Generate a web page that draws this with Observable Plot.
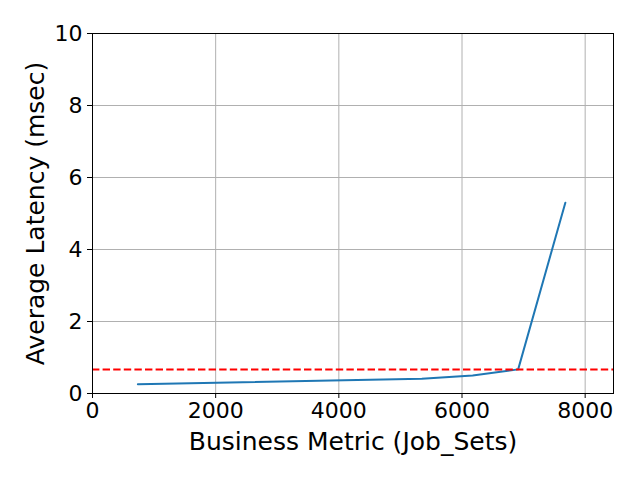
<!DOCTYPE html>
<html>
<head>
<meta charset="utf-8">
<script src="https://cdn.jsdelivr.net/npm/d3@7"></script>
<script src="https://cdn.jsdelivr.net/npm/@observablehq/plot@0.6"></script>
<style>
body { margin: 0; background: white; }
</style>
</head>
<body>
<div id="chart"></div>
<script>
const jobSets = [737, 5348, 6173, 6912, 7678];
const latency = [0.26, 0.41, 0.50, 0.67, 5.30];
const threshold = [0.67];
const xTicks = [0, 2000, 4000, 6000, 8000];
const yTicks = [0, 2, 4, 6, 8, 10];
const xLabel = "Business Metric (Job_Sets)";
const yLabel = "Average Latency (msec)";

const data = jobSets.map((x, i) => ({x, y: latency[i]}));

const chart = Plot.plot({
  width: 640,
  height: 480,
  marginLeft: 92,
  marginRight: 27,
  marginTop: 33,
  marginBottom: 87,
  style: {fontFamily: "DejaVu Sans", fontSize: "22px", color: "black", background: "white"},
  x: {domain: [0, 8460]},
  y: {domain: [0, 10]},
  marks: [
    Plot.gridX(xTicks, {stroke: "#b0b0b0", strokeOpacity: 1, strokeWidth: 1}),
    Plot.gridY(yTicks, {stroke: "#b0b0b0", strokeOpacity: 1, strokeWidth: 1}),
    Plot.axisX(xTicks, {tickSize: 5, tickPadding: 4, fontSize: 22, label: null, tickFormat: d => String(d)}),
    Plot.axisY(yTicks, {tickSize: 5, tickPadding: 5, fontSize: 22, label: null, tickFormat: d => String(d)}),
    Plot.line(data, {x: "x", y: "y", stroke: "#1f77b4", strokeWidth: 2}),
    Plot.ruleY(threshold, {stroke: "red", strokeWidth: 2, strokeDasharray: "7.4,3.2"}),
    Plot.frame({stroke: "black", strokeWidth: 1}),
    Plot.text([xLabel], {frameAnchor: "bottom", lineAnchor: "middle", dy: 48, fontSize: 25, text: d => d, fill: "black"}),
    Plot.text([yLabel], {frameAnchor: "left", textAnchor: "middle", lineAnchor: "middle", dx: -57, rotate: -90, fontSize: 25, text: d => d, fill: "black"})
  ]
});
document.getElementById("chart").appendChild(chart);
</script>
</body>
</html>
